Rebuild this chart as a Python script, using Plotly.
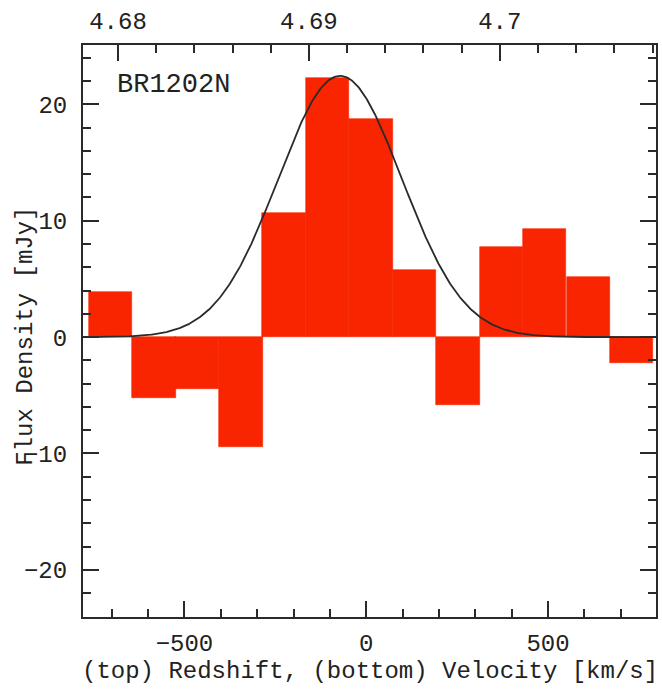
import numpy as np
import plotly.graph_objects as go

# Data
velocity_centers = [-704, -584, -465, -345, -226, -106, 13, 133, 252, 372, 491, 611, 730]  # km/s
flux = [3.9, -5.2, -4.5, -9.45, 10.65, 22.3, 18.75, 5.75, -5.85, 7.75, 9.25, 5.2, -2.2]    # mJy
bin_width = 119.5

# Gaussian fit parameters
gauss_amp = 22.45
gauss_center = -72.0
gauss_sigma = 170.0

redshift_ticks = [4.68, 4.69, 4.70]
redshift_labels = ["4.68", "4.69", "4.7"]

vgrid = np.linspace(-779, 797, 600)
gauss = gauss_amp * np.exp(-0.5 * ((vgrid - gauss_center) / gauss_sigma) ** 2)

FONT = "Liberation Mono"
AX = "#2a2a2a"
FS = 24
BAR = "#F92400"

fig = go.Figure()
fig.add_trace(go.Bar(x=velocity_centers, y=flux, width=bin_width,
                     marker=dict(color=BAR, line=dict(width=0.6, color=BAR)),
                     showlegend=False, hoverinfo="skip"))
fig.add_trace(go.Scatter(x=vgrid, y=gauss, mode="lines",
                         line=dict(color="#2a2a2a", width=1.8),
                         showlegend=False, hoverinfo="skip"))
fig.add_trace(go.Scatter(x=redshift_ticks, y=[0, 0, 0], xaxis="x2", mode="markers",
                         marker=dict(opacity=0), showlegend=False, hoverinfo="skip"))

fig.update_layout(
    width=662, height=690,
    margin=dict(l=83, r=6, t=45, b=73),
    paper_bgcolor="white", plot_bgcolor="white",
    bargap=0,
    font=dict(family=FONT, size=FS, color="#222"),
    xaxis=dict(range=[-779, 797], tickmode="linear", tick0=-500, dtick=500,
               ticks="inside", ticklen=16, tickwidth=2, tickcolor=AX,
               minor=dict(ticks="inside", ticklen=8, tickwidth=2, tickcolor=AX, dtick=100, tick0=0, showgrid=False),
               showline=True, linewidth=2, linecolor=AX, showgrid=False, zeroline=False,
               ticklabelstandoff=3, automargin=False),
    xaxis2=dict(overlaying="x", side="top", range=[4.678166, 4.70818],
                tickmode="array", tickvals=redshift_ticks, ticktext=redshift_labels,
                ticks="inside", ticklen=16, tickwidth=2, tickcolor=AX,
                minor=dict(ticks="inside", ticklen=8, tickwidth=2, tickcolor=AX, dtick=0.002, tick0=4.68, showgrid=False),
                showline=True, linewidth=2, linecolor=AX, showgrid=False, zeroline=False,
                ticklabelstandoff=4, automargin=False),
    yaxis=dict(range=[-24.05, 25.1], tickmode="linear", tick0=0, dtick=10,
               ticks="inside", ticklen=16, tickwidth=2, tickcolor=AX,
               minor=dict(ticks="inside", ticklen=8, tickwidth=2, tickcolor=AX, dtick=2, showgrid=False),
               showline=True, linewidth=2, linecolor=AX, mirror="ticks",
               showgrid=False, zeroline=False, ticklabelstandoff=9, automargin=False),
    annotations=[
        dict(text="BR1202N", x=0.056, y=0.93, xref="paper", yref="paper",
             xanchor="left", yanchor="middle", showarrow=False,
             font=dict(family=FONT, size=27, color="#222")),
        dict(text="Flux Density [mJy]", x=0, y=0.49, xref="paper", yref="paper",
             xshift=-57, textangle=-90, xanchor="center", yanchor="middle", showarrow=False,
             font=dict(family=FONT, size=FS, color="#222")),
        dict(text="(top) Redshift, (bottom) Velocity [km/s]", x=0.5, y=-0.0955,
             xref="paper", yref="paper", xanchor="center", yanchor="middle", showarrow=False,
             font=dict(family=FONT, size=FS, color="#222")),
    ],
)

fig.write_html("out.html")
